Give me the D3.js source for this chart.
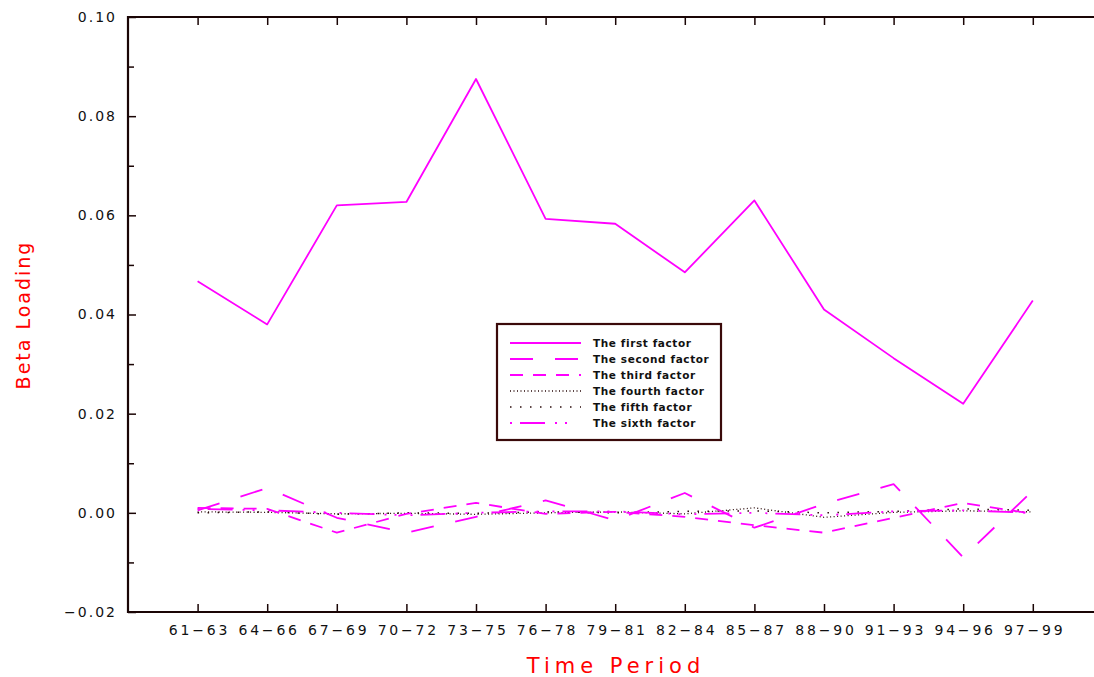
<!DOCTYPE html>
<html>
<head>
<meta charset="utf-8">
<script src="https://cdn.jsdelivr.net/npm/d3@7"></script>
<style>
  body { margin: 0; background: #fff; }
  svg { display: block; }
  text { font-family: "DejaVu Sans", "Liberation Sans", sans-serif; }
</style>
</head>
<body>
<div id="chart"></div>
<script>
// time periods on the x axis
var periods = ["61−63", "64−66", "67−69", "70−72", "73−75", "76−78", "79−81",
               "82−84", "85−87", "88−90", "91−93", "94−96", "97−99"];

// beta loadings
var first  = [0.0467, 0.0380, 0.0620, 0.0627, 0.0875, 0.0593, 0.0583, 0.0485, 0.0630, 0.0410, 0.0312, 0.0220, 0.0428];
var second = [0.0005, 0.0050, -0.0010, -0.0040, -0.0008, 0.0025, -0.0015, 0.0040, -0.0030, 0.0018, 0.0058, -0.0090, 0.0045];
var third  = [0.0010, 0.0008, -0.0040, -0.0002, 0.0020, -0.0002, 0.0002, -0.0008, -0.0025, -0.0040, -0.0010, 0.0020, -0.0002];
var fourth = [0.0002, 0.0001, -0.0002, -0.0001, -0.0003, 0.0000, 0.0002, -0.0002, 0.0010, -0.0009, 0.0001, 0.0004, 0.0002];
var fifth  = [0.0000, 0.0002, -0.0003, 0.0000, -0.0001, 0.0002, 0.0000, 0.0003, 0.0004, 0.0000, 0.0003, 0.0008, 0.0005];
var sixth  = [0.0008, 0.0005, 0.0000, -0.0005, 0.0000, 0.0003, 0.0003, -0.0003, 0.0000, -0.0005, 0.0003, 0.0005, 0.0000];

var seriesNames = ["The first factor", "The second factor", "The third factor",
                   "The fourth factor", "The fifth factor", "The sixth factor"];

// y ticks
var yMajor = [-0.02, 0.00, 0.02, 0.04, 0.06, 0.08, 0.10];
var yMinor = [-0.01, 0.01, 0.03, 0.05, 0.07, 0.09];

// line styles per factor
var styles = [
  {color: "#ff00ff", dash: null,                    width: 1.8},
  {color: "#ff00ff", dash: "23,22",                 width: 1.8},
  {color: "#ff00ff", dash: "13,10",                 width: 1.8},
  {color: "#2a0a0a", dash: "1,2.5",                 width: 1.3},
  {color: "#2a0a0a", dash: "1.5,8.5",               width: 1.5},
  {color: "#ff00ff", dash: "2,8,25,10,2,8,2,14",    width: 1.8}
];

var W = 1094, H = 677;
var plotLeft = 128, plotTop = 17, plotBottom = 612;

var svg = d3.select("#chart")
  .append("svg")
    .attr("width", W)
    .attr("height", H);

// x: category index -> pixel, one slot of padding each side
var x = d3.scaleLinear()
  .domain([-1, 13])
  .range([plotLeft, plotLeft + 69.6 * 14]);
var plotRight = x(13);

var y = d3.scaleLinear()
  .domain([-0.02, 0.10])
  .range([plotBottom, plotTop]);

var axisColor = "#1a0505";

// bottom axis, ticks pointing in
svg.append("g")
    .attr("transform", "translate(0," + plotBottom + ")")
  .call(d3.axisBottom(x)
    .tickValues(d3.range(periods.length))
    .tickFormat(function(i) { return periods[i]; })
    .tickSizeInner(-8).tickSizeOuter(0).tickPadding(13))
  .call(function(g) { g.select(".domain").remove(); })
  .call(function(g) {
    g.selectAll("line").attr("stroke", axisColor).attr("stroke-width", 1.5);
    g.selectAll("text")
      .attr("fill", "#111")
      .attr("font-size", 14)
      .attr("dx", "1.4px")
      .style("letter-spacing", "2.8px");
  });

// top axis, ticks only
svg.append("g")
    .attr("transform", "translate(0," + plotTop + ")")
  .call(d3.axisTop(x)
    .tickValues(d3.range(periods.length))
    .tickFormat("")
    .tickSizeInner(-8).tickSizeOuter(0))
  .call(function(g) { g.select(".domain").remove(); })
  .selectAll("line").attr("stroke", axisColor).attr("stroke-width", 1.5);

// left axis with labels
svg.append("g")
    .attr("transform", "translate(" + plotLeft + ",0)")
  .call(d3.axisLeft(y)
    .tickValues(yMajor)
    .tickFormat(function(d) { return d3.format(".2f")(d).replace("-", "−"); })
    .tickSizeInner(-8).tickSizeOuter(0).tickPadding(11))
  .call(function(g) { g.select(".domain").remove(); })
  .call(function(g) {
    g.selectAll("line").attr("stroke", axisColor).attr("stroke-width", 1.5);
    g.selectAll("text")
      .attr("fill", "#111")
      .attr("font-size", 14)
      .style("letter-spacing", "2px");
  });

// minor ticks
svg.append("g")
    .attr("transform", "translate(" + plotLeft + ",0)")
  .call(d3.axisLeft(y)
    .tickValues(yMinor)
    .tickFormat("")
    .tickSizeInner(-6).tickSizeOuter(0))
  .call(function(g) { g.select(".domain").remove(); })
  .selectAll("line").attr("stroke", axisColor).attr("stroke-width", 1.5);

// frame
svg.append("path")
  .attr("d", "M" + plotRight + "," + plotTop + "H" + plotLeft + "V" + plotBottom + "H" + plotRight + "Z")
  .attr("fill", "none")
  .attr("stroke", axisColor)
  .attr("stroke-width", 2.2);

// lines
var allSeries = [first, second, third, fourth, fifth, sixth];
var line = d3.line()
  .x(function(d, i) { return x(i); })
  .y(function(d) { return y(d); });

// draw the small ones first, first factor on top
[4, 3, 2, 1, 5, 0].forEach(function(k) {
  svg.append("path")
    .datum(allSeries[k])
    .attr("d", line)
    .attr("fill", "none")
    .attr("stroke", styles[k].color)
    .attr("stroke-width", styles[k].width)
    .attr("stroke-dasharray", styles[k].dash)
    .attr("stroke-linejoin", "round");
});

// legend
var legend = svg.append("g").attr("transform", "translate(497,324)");
legend.append("rect")
  .attr("width", 224).attr("height", 116)
  .attr("fill", "#fff")
  .attr("stroke", "#3a0a0a")
  .attr("stroke-width", 2.2);

seriesNames.forEach(function(name, k) {
  var ly = 19 + k * 16;
  legend.append("line")
    .attr("x1", 13).attr("x2", 84)
    .attr("y1", ly).attr("y2", ly)
    .attr("stroke", styles[k].color)
    .attr("stroke-width", styles[k].width)
    .attr("stroke-dasharray", styles[k].dash);
  legend.append("text")
    .attr("x", 96).attr("y", ly + 4)
    .attr("font-size", 10.5)
    .attr("font-weight", "bold")
    .attr("fill", "#111")
    .style("letter-spacing", "0.6px")
    .text(name);
});

// axis titles
svg.append("text")
  .attr("transform", "translate(30,315) rotate(-90)")
  .attr("text-anchor", "middle")
  .attr("font-size", 19)
  .attr("fill", "#ff0000")
  .style("letter-spacing", "2px")
  .text("Beta Loading");

svg.append("text")
  .attr("x", 616).attr("y", 673)
  .attr("text-anchor", "middle")
  .attr("font-size", 21)
  .attr("fill", "#ff0000")
  .style("letter-spacing", "5px")
  .text("Time Period");
</script>
</body>
</html>
